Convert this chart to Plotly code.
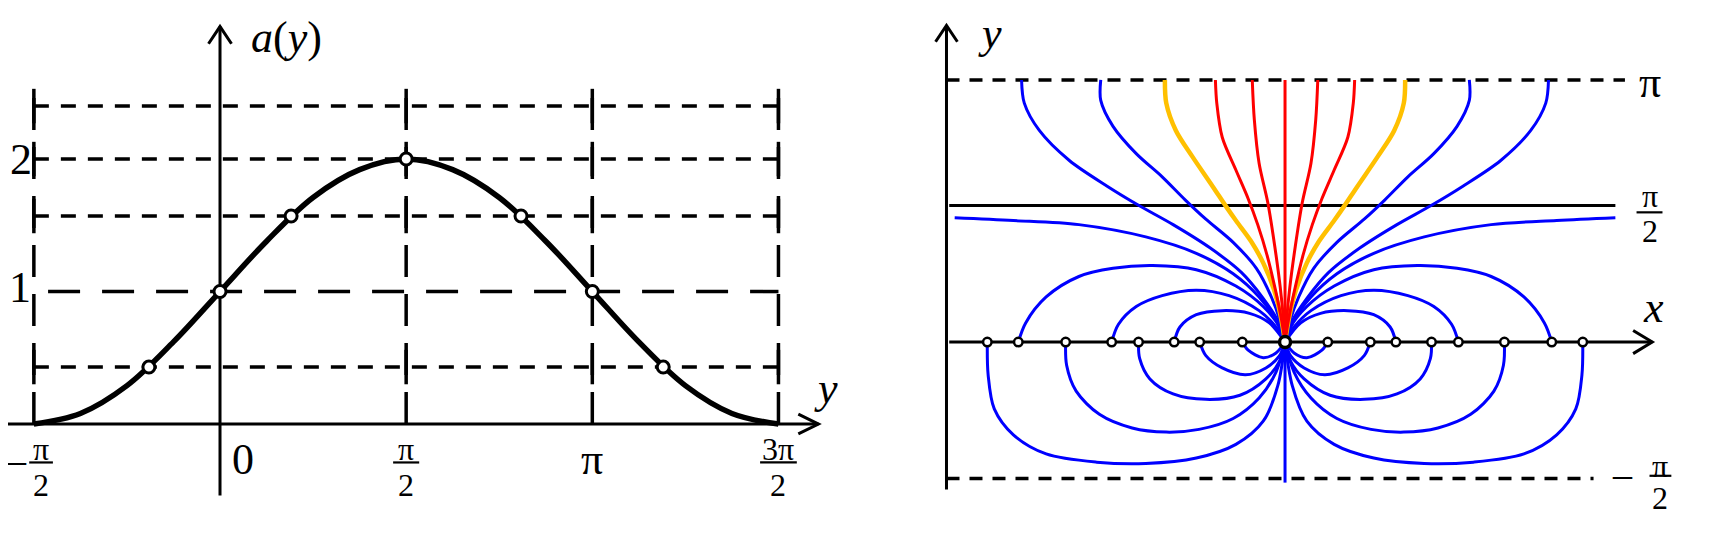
import math
import plotly.graph_objects as go

PI = math.pi

# ---------------- left panel: a(y) ----------------
curve_y = [-1.571, -1.178, -0.785, -0.393, 0.0, 0.393, 0.785, 1.178, 1.571,
           1.963, 2.356, 2.749, 3.142, 3.534, 3.927, 4.320, 4.712]
curve_a = [0.0, 0.08, 0.29, 0.62, 1.0, 1.38, 1.71, 1.92, 2.0,
           1.92, 1.71, 1.38, 1.0, 0.62, 0.29, 0.08, 0.0]
marked_y = [-0.60, 0.0, 0.60, 1.571, 2.54, 3.142, 3.74]
marked_a = [0.43, 1.0, 1.57, 2.0, 1.57, 1.0, 0.43]
short_levels = [0.43, 1.57, 2.0, 2.4]
long_levels = [1.0]
grid_cols = [-PI / 2, PI / 2, PI, 3 * PI / 2]

# ---------------- right panel: field lines (left half, picture is mirror symmetric) ----------------
top_blue_1 = ([-1.93, -1.91, -1.80, -1.58, -1.30, -1.07, -0.82, -0.55, -0.32, -0.16, -0.05, 0],
              [1.92, 1.75, 1.55, 1.33, 1.14, 1.00, 0.86, 0.69, 0.51, 0.32, 0.15, 0])
top_blue_2 = ([-1.35, -1.35, -1.26, -1.09, -0.90, -0.73, -0.58, -0.38, -0.21, -0.10, -0.035, 0],
              [1.92, 1.77, 1.58, 1.38, 1.21, 1.04, 0.90, 0.73, 0.54, 0.33, 0.15, 0])
top_gold = ([-0.88, -0.87, -0.80, -0.68, -0.53, -0.43, -0.36, -0.25, -0.16, -0.08, -0.03, 0],
            [1.92, 1.75, 1.55, 1.36, 1.14, 0.99, 0.89, 0.74, 0.58, 0.38, 0.18, 0])
top_red_1 = ([-0.51, -0.50, -0.46, -0.36, -0.27, -0.20, -0.13, -0.07, -0.025, 0],
             [1.92, 1.75, 1.50, 1.26, 1.05, 0.86, 0.63, 0.38, 0.16, 0])
top_red_2 = ([-0.24, -0.225, -0.19, -0.126, -0.075, -0.035, -0.01, 0],
             [1.92, 1.63, 1.31, 1.02, 0.70, 0.40, 0.15, 0])
top_red_mid = ([0, 0], [1.92, 0])
side_blue = ([-2.42, -1.99, -1.51, -1.02, -0.65, -0.38, -0.19, -0.066, 0],
             [0.91, 0.89, 0.86, 0.77, 0.65, 0.50, 0.33, 0.16, 0])
loop_up_1 = ([-1.954, -1.90, -1.75, -1.51, -1.26, -0.97, -0.65, -0.36, -0.16, -0.04, 0],
             [0, 0.14, 0.33, 0.48, 0.54, 0.56, 0.53, 0.41, 0.26, 0.11, 0])
loop_up_2 = ([-1.27, -1.22, -1.09, -0.90, -0.65, -0.41, -0.19, -0.066, 0],
             [0, 0.13, 0.26, 0.34, 0.38, 0.34, 0.23, 0.11, 0])
loop_up_3 = ([-0.812, -0.77, -0.65, -0.46, -0.26, -0.115, 0],
             [0, 0.11, 0.20, 0.23, 0.21, 0.14, 0])
loop_dn_1 = ([-2.181, -2.175, -2.13, -1.99, -1.75, -1.38, -1.02, -0.65, -0.36, -0.16, -0.053, 0],
             [0, -0.24, -0.49, -0.68, -0.82, -0.88, -0.89, -0.85, -0.75, -0.58, -0.32, 0])
loop_dn_2 = ([-1.607, -1.60, -1.53, -1.36, -1.12, -0.87, -0.63, -0.38, -0.19, -0.066, 0],
             [0, -0.17, -0.36, -0.53, -0.63, -0.66, -0.64, -0.56, -0.41, -0.22, 0])
loop_dn_3 = ([-1.073, -1.065, -0.99, -0.82, -0.58, -0.33, -0.14, -0.04, 0],
             [0, -0.12, -0.27, -0.38, -0.42, -0.39, -0.27, -0.14, 0])
loop_dn_4 = ([-0.625, -0.58, -0.46, -0.29, -0.14, -0.04, 0],
             [0, -0.10, -0.19, -0.24, -0.19, -0.10, 0])
loop_dn_5 = ([-0.313, -0.27, -0.16, -0.066, 0],
             [0, -0.06, -0.115, -0.08, 0])
stem_down = ([0, 0], [0, -1.03])
axis_dots = [0.313, 0.625, 0.812, 1.073, 1.27, 1.607, 1.954, 2.181]

Y_TOP, Y_HALF, Y_NEG = 1.92, 1.0, -1.0   # levels of pi, pi/2, -pi/2 lines

BLUE, RED, GOLD = '#0000FF', '#FF0000', '#FFC000'
FONT = 'Liberation Serif'

fig = go.Figure()

def seg(x0, y0, x1, y1, panel=1, width=3, dash='solid', layer='below'):
  ax = '' if panel == 1 else '2'
  fig.add_shape(type='line', x0=x0, y0=y0, x1=x1, y1=y1, xref='x' + ax, yref='y' + ax,
                line={'color': 'black', 'width': width, 'dash': dash}, layer=layer)

def arrow(tip, w1, w2, panel=1):
  ax = '' if panel == 1 else '2'
  fig.add_shape(type='path', path=f'M {w1[0]},{w1[1]} L {tip[0]},{tip[1]} L {w2[0]},{w2[1]}',
                xref='x' + ax, yref='y' + ax, line={'color': 'black', 'width': 3})

def text(x, y, s, size, panel=1):
  ax = '' if panel == 1 else '2'
  fig.add_annotation(x=x, y=y, xref='x' + ax, yref='y' + ax, text=s, showarrow=False,
                     font={'family': FONT, 'size': size, 'color': 'black'},
                     xanchor='center', yanchor='middle', borderpad=0)

def frac(x, y_num, y_bar, y_den, half, num, den, size, panel=1):
  text(x, y_num, num, size, panel)
  text(x, y_den, den, size, panel)
  seg(x - half, y_bar, x + half, y_bar, panel, width=2.2, layer='above')

# ---- left panel grid ----
for lv in short_levels:
  seg(grid_cols[0], lv, grid_cols[-1], lv, 1, 3.5, '15px,12px')
  for c in grid_cols:
    seg(c, lv - 0.13, c, lv + 0.13, 1, 3.5)
for lv in long_levels:
  seg(grid_cols[0] + 0.12, lv, grid_cols[-1], lv, 1, 3.5, '32px,22px')
for c in grid_cols:
  seg(c, 0, c, 2.56, 1, 3.5, '32px,17px')

# axes
seg(-1.80, 0, 5.05, 0, 1, 3)
seg(0, -0.54, 0, 3.0, 1, 3)
arrow((5.05, 0), (4.88, 0.075), (4.88, -0.075))
arrow((0, 3.0), (-0.097, 2.87), (0.097, 2.87))

fig.add_trace(go.Scatter(x=curve_y, y=curve_a, mode='lines', line={'color': 'black', 'width': 5.5, 'shape': 'spline'},
                         xaxis='x', yaxis='y', hoverinfo='skip'))
fig.add_trace(go.Scatter(x=marked_y, y=marked_a, mode='markers',
                         marker={'size': 12, 'color': 'white', 'line': {'color': 'black', 'width': 3}},
                         xaxis='x', yaxis='y', hoverinfo='skip'))

# labels
text(0.56, 2.92, '<i>a</i>(<i>y</i>)', 44)
text(-1.68, 2.0, '2', 44)
text(-1.69, 1.03, '1', 44)
text(0.19, -0.27, '0', 44)
text(PI, -0.27, 'π', 44)
text(5.11, 0.27, '<i>y</i>', 44)
text(-1.72, -0.275, '–', 38)
frac(-1.51, -0.19, -0.29, -0.46, 0.1, 'π', '2', 32)
frac(PI / 2, -0.19, -0.29, -0.46, 0.11, 'π', '2', 32)
frac(3 * PI / 2, -0.19, -0.29, -0.46, 0.155, '3π', '2', 32)

# ---- right panel ----
seg(-2.48, Y_TOP, 2.49, Y_TOP, 2, 3.5, '13px,10px')
seg(-2.48, Y_NEG, 2.26, Y_NEG, 2, 3.5, '13px,10px')
seg(-2.46, Y_HALF, 2.42, Y_HALF, 2, 3)
seg(-2.46, 0, 2.69, 0, 2, 3)
seg(-2.48, -1.08, -2.48, 2.32, 2, 3)
arrow((2.69, 0), (2.55, 0.085), (2.55, -0.085), 2)
arrow((-2.48, 2.32), (-2.56, 2.20), (-2.40, 2.20), 2)

def field(curve, color, width, mirror=True):
  xs, ys = curve
  sides = [xs, [-v for v in xs]] if mirror else [xs]
  for sx in sides:
    fig.add_trace(go.Scatter(x=sx, y=ys, mode='lines', xaxis='x2', yaxis='y2', hoverinfo='skip',
                             line={'color': color, 'width': width, 'shape': 'spline', 'smoothing': 0.9}))

for c in [side_blue, loop_up_1, loop_up_2, loop_up_3, loop_dn_1, loop_dn_2, loop_dn_3,
          loop_dn_4, loop_dn_5, top_blue_1, top_blue_2]:
  field(c, BLUE, 3)
field(stem_down, BLUE, 3, mirror=False)
field(top_gold, GOLD, 4.5)
field(top_red_1, RED, 3)
field(top_red_2, RED, 3)
field(top_red_mid, RED, 3, mirror=False)

dots_x = [-v for v in axis_dots] + axis_dots
fig.add_trace(go.Scatter(x=dots_x, y=[0] * len(dots_x), mode='markers', xaxis='x2', yaxis='y2', hoverinfo='skip',
                         marker={'size': 8.5, 'color': 'white', 'line': {'color': 'black', 'width': 2.5}}))
fig.add_trace(go.Scatter(x=[0], y=[0], mode='markers', xaxis='x2', yaxis='y2', hoverinfo='skip',
                         marker={'size': 11, 'color': 'white', 'line': {'color': 'black', 'width': 3.5}}))

text(-2.16, 2.26, '<i>y</i>', 44, 2)
text(2.67, 1.90, 'π', 44, 2)
text(2.70, 0.25, '<i>x</i>', 44, 2)
frac(2.67, 1.07, 0.95, 0.81, 0.095, 'π', '2', 32, 2)
text(2.47, -0.965, '–', 38, 2)
frac(2.75, -0.91, -0.98, -1.14, 0.08, 'π', '2', 32, 2)

# the page adds an 8px body margin, so the figure is sized to fit inside the window
fig.update_layout(
  width=1720, height=537,
  margin={'l': 0, 'r': 0, 't': 0, 'b': 0},
  plot_bgcolor='white', paper_bgcolor='white',
  showlegend=False,
  xaxis={'domain': [0, 0.5], 'range': [-1.789, 5.468], 'visible': False},
  yaxis={'domain': [0, 1], 'range': [-0.913, 3.140], 'visible': False},
  xaxis2={'domain': [0.5, 1], 'range': [-3.055, 3.245], 'visible': False, 'anchor': 'y2'},
  yaxis2={'domain': [0, 1], 'range': [-1.487, 2.447], 'visible': False, 'anchor': 'x2'},
)

fig.write_html("out.html")
